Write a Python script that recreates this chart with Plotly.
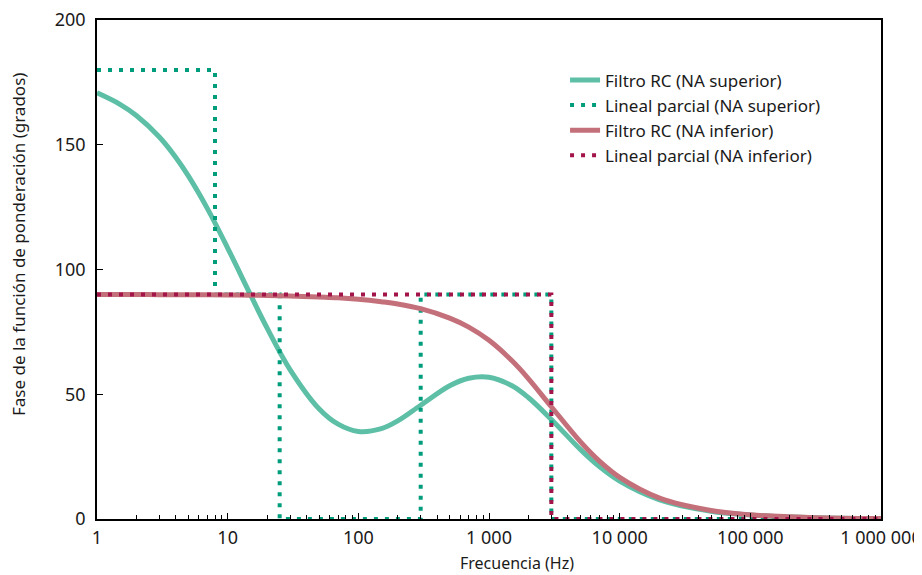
"""Phase of the weighting function: RC filter vs piecewise-linear approximation."""

import plotly.graph_objects as go

freq_rc = [1, 1.5, 2, 3, 4, 5, 7, 10, 15, 20, 30, 50, 70, 100, 150, 200, 300, 500, 700,
           1000, 1500, 2000, 3000, 5000, 7000, 10000, 20000, 50000, 100000, 200000, 500000, 1000000]
rc_superior = [170.8, 166.2, 161.7, 153.1, 145.0, 137.5, 124.4, 108.6, 89.7, 76.6, 59.9, 44.2, 38.0,
               35.1, 36.2, 39.3, 45.6, 53.4, 56.4, 56.8, 53.4, 48.7, 39.9, 27.9, 21.0, 15.2, 7.8,
               3.1, 1.6, 0.8, 0.3, 0.2]
rc_inferior = [90.0, 90.0, 90.0, 89.9, 89.9, 89.9, 89.9, 89.8, 89.7, 89.6, 89.4, 89.0, 88.7,
               88.1, 87.1, 86.2, 84.3, 80.5, 76.9, 71.6, 63.4, 56.3, 45.0, 31.0, 23.2, 16.7, 8.5,
               3.4, 1.7, 0.9, 0.3, 0.2]

# piecewise-linear (step) approximations
freq_pl_superior = [1, 8, 8, 25, 25, 300, 300, 3000, 3000, 1000000]
pl_superior = [180, 180, 90, 90, 0, 0, 90, 90, 0, 0]
freq_pl_inferior = [1, 3000, 3000, 1000000]
pl_inferior = [90, 90, 0, 0]

x_tickvals = [1, 10, 100, 1000, 10000, 100000, 1000000]
x_ticktext = ["1", "10", "100", "1 000", "10 000", "100 000", "1 000 000"]
minor_vals = [m * 10 ** d for d in range(6) for m in range(2, 10)]

TEAL_LIGHT = "#5cbfa6"
TEAL_DARK = "#009d7c"
RED_LIGHT = "#c4707b"
RED_DARK = "#a3144a"
FONT = "Noto Sans"

fig = go.Figure()
fig.add_trace(go.Scatter(x=freq_rc, y=rc_superior, name="Filtro RC (NA superior)", mode="lines",
                         line={"color": TEAL_LIGHT, "width": 5, "shape": "spline"}))
fig.add_trace(go.Scatter(x=freq_pl_superior, y=pl_superior, name="Lineal parcial (NA superior)",
                         mode="lines", line={"color": TEAL_DARK, "width": 4, "dash": "4px,7px"}))
fig.add_trace(go.Scatter(x=freq_rc, y=rc_inferior, name="Filtro RC (NA inferior)", mode="lines",
                         line={"color": RED_LIGHT, "width": 5, "shape": "spline"}))
fig.add_trace(go.Scatter(x=freq_pl_inferior, y=pl_inferior, name="Lineal parcial (NA inferior)",
                         mode="lines", line={"color": RED_DARK, "width": 4, "dash": "4px,7px"}))

# the page body adds an 8px margin, so the figure is a bit smaller than the window
fig.update_layout(
    width=914,
    height=567,
    margin={"l": 89, "r": 41, "t": 12, "b": 56},
    plot_bgcolor="white",
    paper_bgcolor="white",
    font={"family": FONT, "color": "#1a1a1a", "size": 18},
    legend={"x": 0.597, "y": 0.915, "xanchor": "left", "yanchor": "top",
            "font": {"size": 17}, "bgcolor": "rgba(0,0,0,0)"},
)
fig.update_xaxes(
    type="log", range=[0, 6], showgrid=False, zeroline=False, automargin=False,
    showline=True, linecolor="black", linewidth=1.5, mirror=True,
    tickmode="array", tickvals=x_tickvals, ticktext=x_ticktext,
    ticks="inside", ticklen=6, tickcolor="black", ticklabelstandoff=2,
    ticklabeloverflow="allow",
    minor={"tickmode": "array", "tickvals": minor_vals, "ticks": "inside",
           "ticklen": 4, "tickcolor": "black", "showgrid": False},
)
fig.update_yaxes(
    range=[0, 200], showgrid=False, zeroline=False, automargin=False,
    showline=True, linecolor="black", linewidth=1.5, mirror=True,
    tickvals=[0, 50, 100, 150, 200], ticks="inside", ticklen=6, tickcolor="black",
    ticklabelstandoff=6, ticklabeloverflow="allow",
)

# axis titles sit off-centre in the original, so place them as annotations
fig.add_annotation(text="Frecuencia (Hz)", xref="paper", yref="paper", x=0.536, y=-0.088,
                   xanchor="center", yanchor="middle", showarrow=False, font={"size": 16})
fig.add_annotation(text="Fase de la función de ponderación (grados)", xref="paper", yref="paper",
                   x=-0.1008, y=0.551, xanchor="center", yanchor="middle", textangle=-90,
                   showarrow=False, font={"size": 17})

fig.write_html("out.html")
